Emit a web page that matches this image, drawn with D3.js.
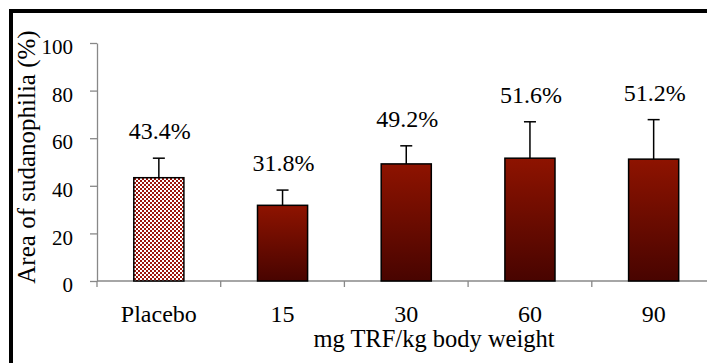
<!DOCTYPE html>
<html>
<head>
<meta charset="utf-8">
<script src="https://cdn.jsdelivr.net/npm/d3@7"></script>
<style>
  body { margin: 0; background: #fff; }
  svg text { font-family: "Times New Roman", "Liberation Serif", Tinos, serif !important; fill: #000; }
</style>
</head>
<body>
<div id="chart"></div>
<script>
// data
const categories = ["Placebo", "15", "30", "60", "90"];
const means = [43.4, 31.8, 49.2, 51.6, 51.2];
const sds = [8.2, 6.4, 7.6, 15.3, 16.6];
const yTicks = [0, 20, 40, 60, 80, 100];

const width = 707,
  height = 363;
const serif = '"Times New Roman", "Liberation Serif", Tinos, serif';

const svg = d3.select("#chart")
  .append("svg")
  .attr("width", width)
  .attr("height", height)
  .attr("font-family", serif);

const defs = svg.append("defs");

// gradient for the TRF bars
const grad = defs.append("linearGradient")
  .attr("id", "barGrad")
  .attr("x1", 0).attr("y1", 0)
  .attr("x2", 0).attr("y2", 1);
grad.append("stop").attr("offset", "0%").attr("stop-color", "#8e1300");
grad.append("stop").attr("offset", "100%").attr("stop-color", "#480400");

// checkered pattern for placebo
const pat = defs.append("pattern")
  .attr("id", "checker")
  .attr("width", 4).attr("height", 4)
  .attr("patternUnits", "userSpaceOnUse");
pat.append("rect").attr("width", 4).attr("height", 4).attr("fill", "#fff");
pat.append("rect").attr("width", 2).attr("height", 2).attr("fill", "#9c160c");
pat.append("rect").attr("x", 2).attr("y", 2).attr("width", 2).attr("height", 2).attr("fill", "#9c160c");

// frame (cropped on the right and bottom)
svg.append("rect")
  .attr("x", 11).attr("y", 11)
  .attr("width", 800).attr("height", 400)
  .attr("fill", "none")
  .attr("stroke", "#000")
  .attr("stroke-width", 4);

const x = d3.scaleBand()
  .domain(categories)
  .range([97, 715.5])
  .paddingInner(0.595)
  .paddingOuter(0.2975);

const y = d3.scaleLinear()
  .domain([0, 100])
  .range([281, 43]);

// y axis
const yAxis = svg.append("g")
  .attr("transform", "translate(97,0)")
  .call(d3.axisLeft(y).tickValues(yTicks).tickSize(7).tickSizeOuter(0).tickPadding(17));
yAxis.attr("font-family", serif).attr("font-size", 21);
yAxis.select(".domain").attr("stroke", "#888").attr("stroke-width", 1.3);
yAxis.selectAll(".tick line").attr("stroke", "#888").attr("stroke-width", 1.3);
yAxis.selectAll(".tick text")
  .attr("dy", "0.51em")
  .attr("fill", "#000");

// x axis line and boundary ticks
svg.append("line")
  .attr("x1", 97).attr("x2", width)
  .attr("y1", y(0)).attr("y2", y(0))
  .attr("stroke", "#888").attr("stroke-width", 1.3);

svg.selectAll(".xtick")
  .data(d3.range(categories.length))
  .join("line")
  .attr("class", "xtick")
  .attr("x1", i => x.range()[0] + i * x.step())
  .attr("x2", i => x.range()[0] + i * x.step())
  .attr("y1", y(0)).attr("y2", y(0) + 6)
  .attr("stroke", "#888").attr("stroke-width", 1.3);

svg.selectAll(".xlabel")
  .data(categories)
  .join("text")
  .attr("class", "xlabel")
  .attr("x", d => x(d) + x.bandwidth() / 2)
  .attr("y", 321.5)
  .attr("text-anchor", "middle")
  .attr("font-size", 24)
  .text(d => d);

// error bars
const errs = svg.selectAll(".err")
  .data(categories)
  .join("g")
  .attr("class", "err");
errs.append("line")
  .attr("x1", d => x(d) + x.bandwidth() / 2)
  .attr("x2", d => x(d) + x.bandwidth() / 2)
  .attr("y1", (d, i) => y(means[i]))
  .attr("y2", (d, i) => y(means[i] + sds[i]))
  .attr("stroke", "#000").attr("stroke-width", 1.5);
errs.append("line")
  .attr("x1", d => x(d) + x.bandwidth() / 2 - 6)
  .attr("x2", d => x(d) + x.bandwidth() / 2 + 6)
  .attr("y1", (d, i) => y(means[i] + sds[i]))
  .attr("y2", (d, i) => y(means[i] + sds[i]))
  .attr("stroke", "#000").attr("stroke-width", 1.5);

// bars
svg.selectAll(".bar")
  .data(categories)
  .join("rect")
  .attr("class", "bar")
  .attr("x", d => x(d))
  .attr("y", (d, i) => y(means[i]))
  .attr("width", x.bandwidth())
  .attr("height", (d, i) => y(0) - y(means[i]))
  .attr("fill", (d, i) => i === 0 ? "url(#checker)" : "url(#barGrad)")
  .attr("stroke", "#000")
  .attr("stroke-width", 1.5);

// value labels
svg.selectAll(".val")
  .data(categories)
  .join("text")
  .attr("class", "val")
  .attr("x", d => x(d) + x.bandwidth() / 2 + 1)
  .attr("y", (d, i) => y(means[i] + sds[i]) - 19)
  .attr("text-anchor", "middle")
  .attr("font-size", 24)
  .text((d, i) => d3.format(".1f")(means[i]) + "%");

// axis titles
svg.append("text")
  .attr("transform", "translate(35,157) rotate(-90)")
  .attr("text-anchor", "middle")
  .attr("font-size", 25)
  .text("Area of sudanophilia (%)");

svg.append("text")
  .attr("x", 434)
  .attr("y", 347)
  .attr("text-anchor", "middle")
  .attr("font-size", 24.5)
  .text("mg TRF/kg body weight");
</script>
</body>
</html>
